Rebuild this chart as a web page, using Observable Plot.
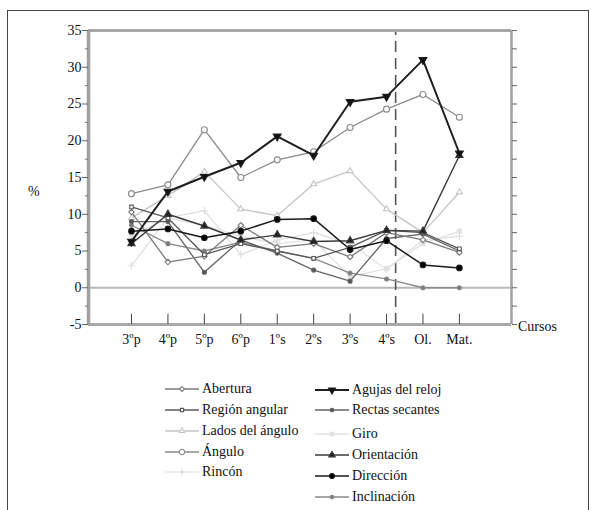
<!DOCTYPE html>
<html><head><meta charset="utf-8">
<script src="https://cdn.jsdelivr.net/npm/d3@7"></script>
<script src="https://cdn.jsdelivr.net/npm/@observablehq/plot@0.6"></script>
<style>
body{margin:0;background:#fff;font-family:"Liberation Serif","Times New Roman",Tinos,"DejaVu Serif",serif;}
#wrap{position:relative;width:596px;height:510px;overflow:hidden;}
#frame{position:absolute;left:7px;top:10px;width:582px;height:520px;border:1.5px solid #444;box-sizing:border-box;}
.lab{position:absolute;font-size:14px;color:#111;white-space:nowrap;line-height:1;}
.leg{position:absolute;display:flex;align-items:center;font-size:14px;color:#111;white-space:nowrap;}
.leg svg{margin-right:3px;}
#chart{position:absolute;left:0;top:0;}
#chart svg text{font-family:"Liberation Serif","Times New Roman",Tinos,"DejaVu Serif",serif;}
</style></head>
<body>
<div id="wrap"><div id="frame"></div><div id="chart"></div></div>
<script>
const cursos = ["3ºp","4ºp","5ºp","6ºp","1ºs","2ºs","3ºs","4ºs","Ol.","Mat."];
const yTicks = [-5,0,5,10,15,20,25,30,35];

const abertura      = [10.3, 3.5, 4.3, 8.5, 5.5, 6.0, 4.2, 7.5, 6.5, 4.8];
const regionAngular = [11.0, 9.5, 4.5, 6.0, 5.0, 4.0, 5.5, 7.8, 7.5, 5.3];
const ladosAngulo   = [9.5, 12.5, 15.8, 10.7, 9.8, 14.1, 15.9, 10.7, 7.5, 13.0];
const angulo        = [12.8, 14.0, 21.5, 15.0, 17.4, 18.5, 21.8, 24.3, 26.3, 23.2];
const rincon        = [3.0, 9.5, 10.5, 4.5, 6.5, 7.5, 6.0, 2.5, 6.5, 7.0];
const agujas        = [6.3, 13.1, 15.1, 17.0, 20.6, 18.0, 25.3, 26.0, 31.0, 18.3];
const rectas        = [9.0, 9.0, 2.1, 6.5, 4.7, 2.4, 0.9, 6.7, 7.3, 5.0];
const giro          = [7.0, 9.5, 8.5, 7.0, 6.0, 6.5, 1.5, 2.6, 6.0, 7.7];
const orientacion   = [6.0, 10.0, 8.4, 6.5, 7.2, 6.3, 6.4, 7.8, 7.7, 18.0];
const direccion     = [7.7, 8.0, 6.8, 7.7, 9.3, 9.4, 5.2, 6.4, 3.1, 2.7];
const inclinacion   = [8.5, 6.0, 5.0, 6.2, 5.0, 4.0, 2.0, 1.2, 0.0, 0.0];

const series = [
  {name:"Abertura", v:abertura, stroke:"#7a7a7a", sw:1.3, symbol:"diamond2", fill:"white", r:2.5, col:0, d3s:d3.symbolDiamond2},
  {name:"Región angular", v:regionAngular, stroke:"#5a5a5a", sw:1.3, symbol:"square2", fill:"white", r:2.3, col:0, d3s:d3.symbolSquare2},
  {name:"Lados del ángulo", v:ladosAngulo, stroke:"#c4c4c4", sw:1.3, symbol:"triangle2", fill:"white", r:2.8, col:0, d3s:d3.symbolTriangle2},
  {name:"Ángulo", v:angulo, stroke:"#8a8a8a", sw:1.3, symbol:"circle", fill:"white", r:3, col:0, d3s:d3.symbolCircle},
  {name:"Rincón", v:rincon, stroke:"#dedede", sw:1.2, symbol:"plus", fill:"none", r:2.6, col:0, d3s:d3.symbolPlus},
  {name:"Agujas del reloj", v:agujas, stroke:"#1e1e1e", sw:2, symbol:"triangle", fill:"#111", r:2.9, rotate:180, col:1, d3s:d3.symbolTriangle},
  {name:"Rectas secantes", v:rectas, stroke:"#626262", sw:1.3, symbol:"circle", fill:"#555", r:2, col:1, d3s:d3.symbolCircle},
  {name:"Giro", v:giro, stroke:"#e2e2e2", sw:1.3, symbol:"square", fill:"#e2e2e2", r:2.3, col:1, d3s:d3.symbolSquare},
  {name:"Orientación", v:orientacion, stroke:"#3a3a3a", sw:1.4, symbol:"triangle", fill:"#222", r:2.7, col:1, d3s:d3.symbolTriangle},
  {name:"Dirección", v:direccion, stroke:"#1a1a1a", sw:1.5, symbol:"circle", fill:"#000", r:2.8, col:1, d3s:d3.symbolCircle},
  {name:"Inclinación", v:inclinacion, stroke:"#8a8a8a", sw:1.3, symbol:"circle", fill:"#7a7a7a", r:2, col:1, d3s:d3.symbolCircle}
];

const idx = d3.range(cursos.length);
const xDom = [-1.18, 10.43];
const drawOrder = ["Giro","Rincón","Lados del ángulo","Inclinación","Rectas secantes","Abertura","Región angular","Ángulo","Orientación","Dirección","Agujas del reloj"];

const marks = [
  Plot.ruleY([0], {stroke:"#b8b8b8", strokeWidth:2.2}),
  Plot.ruleX([7.25], {y1:-5, y2:35, stroke:"#555", strokeWidth:1.6, strokeDasharray:"11,6"}),
];
for (const nm of drawOrder) {
  const s = series.find(d => d.name === nm);
  marks.push(Plot.line(idx, {x:i=>i, y:i=>s.v[i], stroke:s.stroke, strokeWidth:s.sw}));
  marks.push(Plot.dot(idx, {x:i=>i, y:i=>s.v[i], symbol:s.symbol, fill:s.fill, stroke:s.stroke, strokeWidth:1.1, r:s.r, rotate:s.rotate||0}));
}
marks.push(
  Plot.ruleY([35], {stroke:"#a8a8a8", strokeWidth:3}),
  Plot.ruleY([-5], {stroke:"#a8a8a8", strokeWidth:3}),
  Plot.ruleX([xDom[0]], {y1:-5, y2:35, stroke:"#a0a0a0", strokeWidth:3.5}),
  Plot.ruleX([xDom[1]], {y1:-5, y2:35, stroke:"#a0a0a0", strokeWidth:2.5}),
  Plot.ruleX(idx, {x:i=>i, y1:-5, y2:-3.6, stroke:"#444", strokeWidth:1}),
  Plot.axisY(yTicks, {anchor:"left", tickSize:6, tickPadding:1, fontSize:14, label:null, stroke:"#666", tickFormat:d=>String(d)}),
  Plot.axisY(d3.range(-2.5, 35, 5), {anchor:"left", tickSize:3, tickFormat:()=>"", label:null, stroke:"#777"}),
  Plot.axisY(d3.range(-5, 35.1, 2.5), {anchor:"right", tickSize:5, tickFormat:()=>"", label:null, stroke:"#666"}),
  Plot.axisX(idx, {anchor:"bottom", tickSize:0, tickPadding:10, tickFormat:i=>cursos[i], fontSize:14, label:null})
);

const chart = Plot.plot({
  width:596, height:360,
  marginLeft:88, marginRight:85, marginTop:30, marginBottom:36,
  style:{fontFamily:"'Liberation Serif', 'Times New Roman', Tinos, 'DejaVu Serif', serif", fontSize:"14px", color:"#111", background:"transparent"},
  x:{type:"linear", domain:xDom, axis:null},
  y:{domain:[-5,35], axis:null},
  marks
});
document.getElementById("chart").appendChild(chart);

const wrap = document.getElementById("wrap");
function addLabel(txt, x, y){ const e=document.createElement("div"); e.className="lab"; e.textContent=txt; e.style.left=x+"px"; e.style.top=y+"px"; wrap.appendChild(e); }
addLabel("%", 28, 185);
addLabel("Cursos", 518, 320);

const legY = [[389,410,431,452,472],[390,410,434,455,476,497]];
const legX = [165, 315];
const counters=[0,0];
for (const s of series) {
  const c = s.col, k = counters[c]++;
  const div = document.createElement("div"); div.className="leg";
  div.style.left = legX[c]+"px"; div.style.top = (legY[c][k]-8)+"px";
  const svg = d3.create("svg").attr("width",34).attr("height",16);
  svg.append("line").attr("x1",0).attr("x2",34).attr("y1",8).attr("y2",8).attr("stroke",s.stroke).attr("stroke-width",s.sw);
  svg.append("path").attr("d", d3.symbol(s.d3s, Math.PI*s.r*s.r*0.8)()).attr("transform",`translate(17,8) rotate(${s.rotate||0})`)
    .attr("fill", s.fill==="none"?"none":s.fill).attr("stroke",s.stroke).attr("stroke-width",1.1);
  div.appendChild(svg.node());
  const t = document.createElement("span"); t.textContent = s.name; div.appendChild(t);
  wrap.appendChild(div);
}
</script>
</body></html>
